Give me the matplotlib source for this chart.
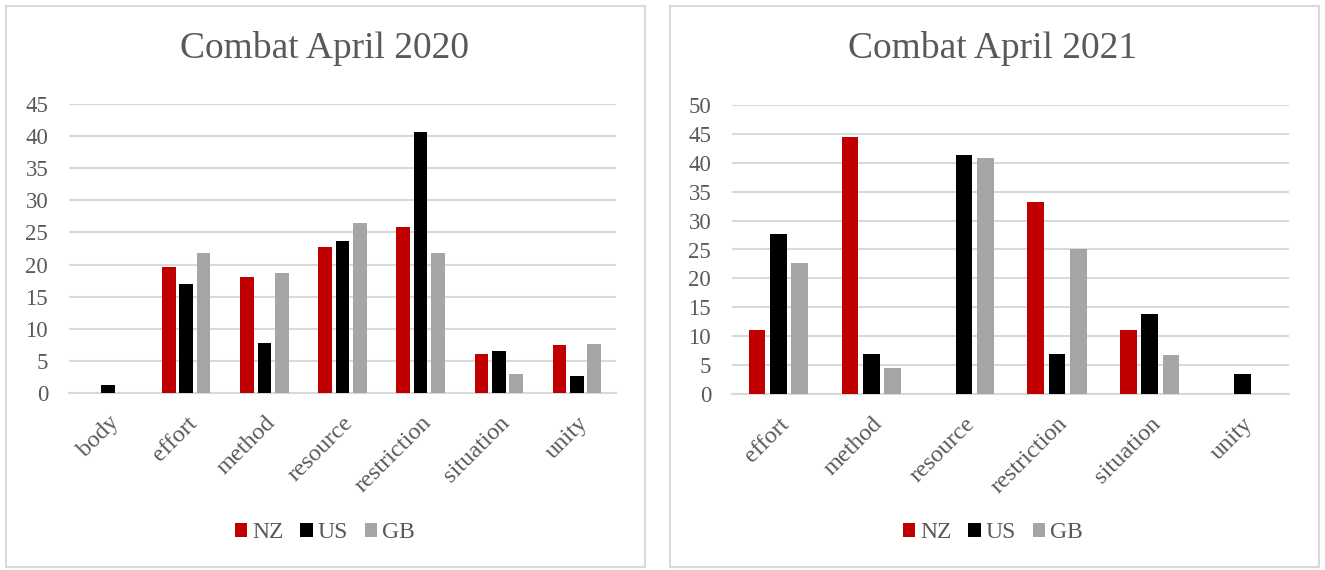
import numpy as np
import matplotlib
matplotlib.use("Agg")
import matplotlib.pyplot as plt
from matplotlib.patches import Rectangle, Patch

plt.rcParams["font.family"] = ["Liberation Serif", "DejaVu Serif"]

W, H = 1325, 570

# data
series = ["NZ", "US", "GB"]
colors = ["#C00000", "#000000", "#A5A5A5"]

cats_2020 = ["body", "effort", "method", "resource", "restriction", "situation", "unity"]
nz_2020 = [0, 19.6, 18.1, 22.7, 25.8, 6.0, 7.5]
us_2020 = [1.3, 17.0, 7.8, 23.6, 40.7, 6.5, 2.6]
gb_2020 = [0, 21.8, 18.7, 26.5, 21.8, 3.0, 7.7]

cats_2021 = ["effort", "method", "resource", "restriction", "situation", "unity"]
nz_2021 = [11.1, 44.4, 0, 33.3, 11.1, 0]
us_2021 = [27.6, 6.9, 41.4, 6.9, 13.8, 3.4]
gb_2021 = [22.7, 4.5, 40.9, 25.0, 6.8, 0]

TXT = "#595959"
GRID = "#D9D9D9"


def px_axes(fig, x0, y0, x1, y1):
    # pixel box (top-left origin) -> figure axes
    return fig.add_axes([x0 / W, (H - y1) / H, (x1 - x0) / W, (y1 - y0) / H])


def panel(fig, x0, y0, x1, y1):
    fig.patches.append(Rectangle((x0 / W, (H - y1) / H), (x1 - x0) / W, (y1 - y0) / H,
                                 transform=fig.transFigure, fill=False,
                                 edgecolor="#D9D9D9", linewidth=1.5))


def draw(ax, cats, vals, ymax, title, bw, step, cx):
    x = np.arange(len(cats))
    for i, (v, c) in enumerate(zip(vals, colors)):
        ax.bar(x + (i - 1) * step, v, width=bw, color=c, zorder=3)
    ax.set_xlim(-0.5, len(cats) - 0.5)
    ax.set_ylim(0, ymax)
    ax.set_yticks(np.arange(0, ymax + 1, 5))
    ax.yaxis.grid(True, color=GRID, linewidth=1.5, zorder=0)
    ax.set_axisbelow(True)
    for s in ["top", "right", "left"]:
        ax.spines[s].set_visible(False)
    ax.spines["bottom"].set_color(GRID)
    ax.spines["bottom"].set_linewidth(1.5)
    ax.tick_params(length=0, colors=TXT)
    ax.tick_params(axis="y", pad=15, labelsize=16.5)
    ax.set_xticks(x)
    ax.set_xticklabels(cats, rotation=45, ha="right", rotation_mode="anchor")
    ax.tick_params(axis="x", pad=14, labelsize=17.5)
    fig.text(cx / W, 1 - 49 / H, title, ha="center", va="center", fontsize=27, color=TXT)
    handles = [Patch(facecolor=c, label=s) for s, c in zip(series, colors)]
    fig.legend(handles=handles, loc="center", bbox_to_anchor=(cx / W, 1 - 533 / H),
               ncol=3, frameon=False, fontsize=17, labelcolor=TXT,
               handlelength=0.52, handleheight=0.52, handletextpad=0.22, columnspacing=0.7)


fig = plt.figure(figsize=(W / 100, H / 100), dpi=100)
panel(fig, 6, 6, 645, 567)
panel(fig, 670, 6, 1319, 567)

ax1 = px_axes(fig, 69, 104, 616, 393)
draw(ax1, cats_2020, [nz_2020, us_2020, gb_2020], 45, "Combat April 2020", 0.175, 0.222, 325)

ax2 = px_axes(fig, 732, 105, 1289, 394)
draw(ax2, cats_2021, [nz_2021, us_2021, gb_2021], 50, "Combat April 2021", 0.18, 0.23, 993)

fig.savefig("out.png", dpi=100, facecolor="white")
